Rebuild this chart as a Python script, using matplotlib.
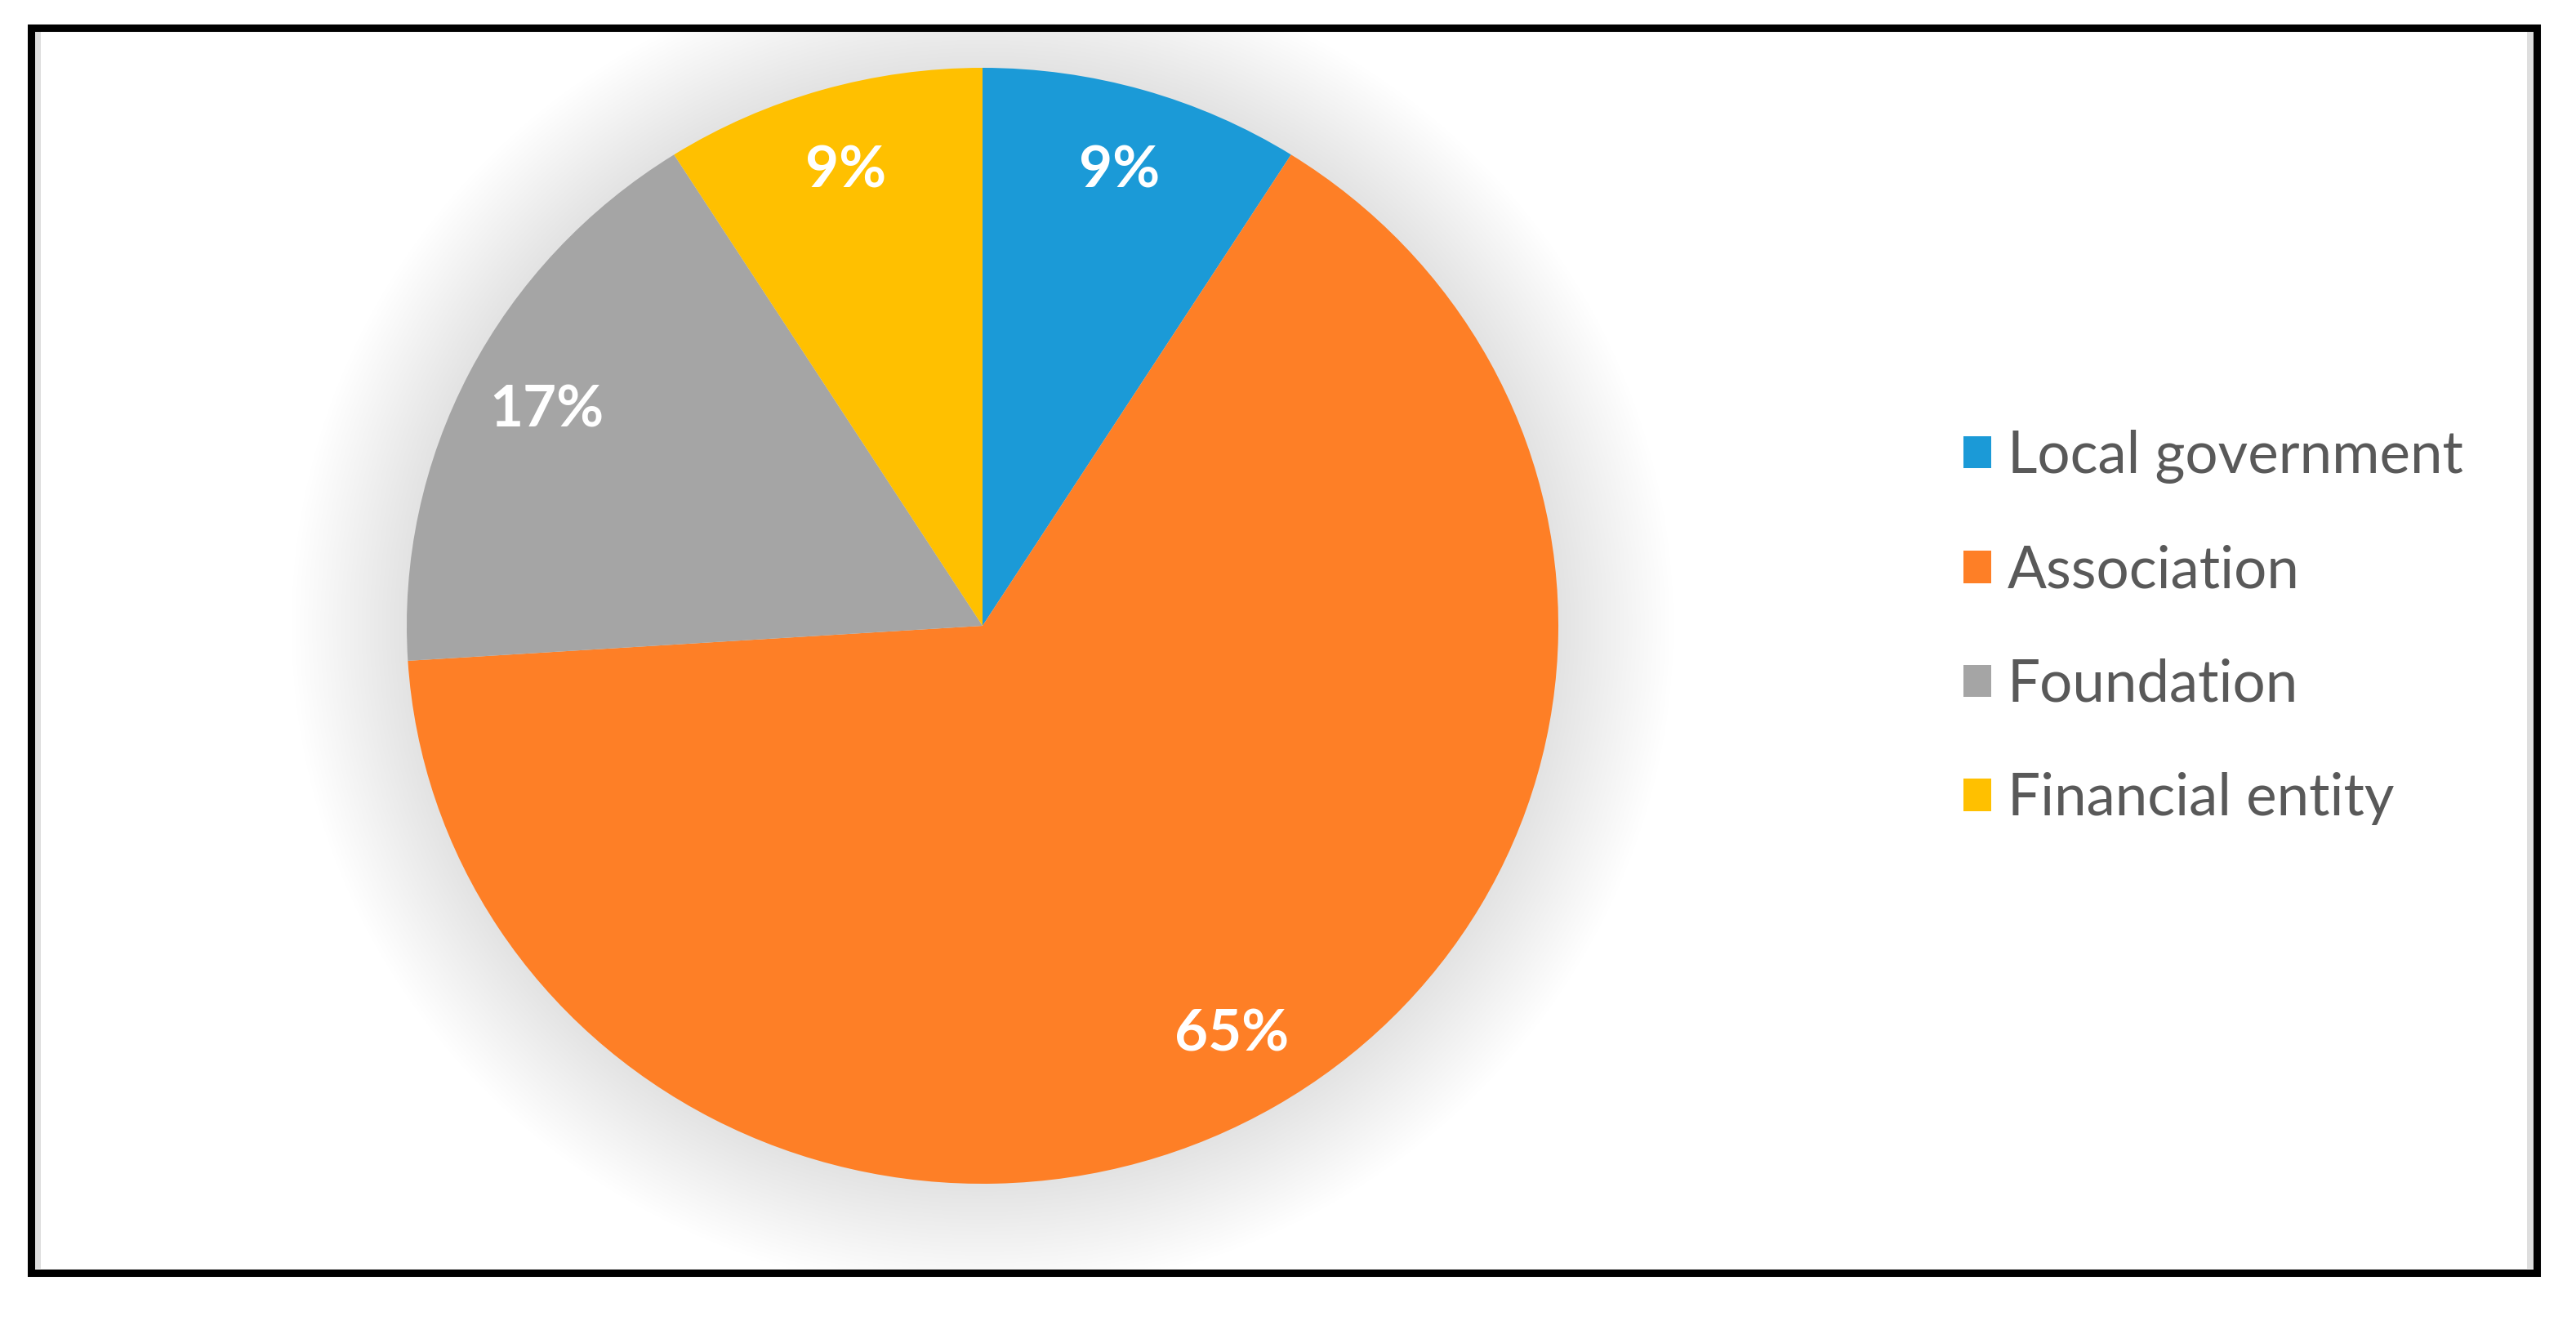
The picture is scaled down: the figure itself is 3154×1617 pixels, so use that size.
import matplotlib
matplotlib.use("Agg")
import matplotlib.pyplot as plt
from matplotlib.patches import Circle, Rectangle

# data
categories = ["Local government", "Association", "Foundation", "Financial entity"]
shares = [9, 65, 17, 9]
colors = ["#1B9AD7", "#FE7F26", "#A5A5A5", "#FFC000"]

W, H = 3154, 1617
fig = plt.figure(figsize=(W / 100, H / 100), dpi=100)

# pie axes, stretched a bit wider than tall like the original
cx, cy, rx, ry = 1203, 766, 705, 683
lim = 1.25
ax = fig.add_axes([(cx - lim * rx) / W, (H - cy - lim * ry) / H, 2 * lim * rx / W, 2 * lim * ry / H], zorder=1)

# soft shadow round the pie (each layer is one 8-bit alpha step)
n = 28
for i in range(n):
    r = 1.0 + 0.2 * (i + 1) / n
    ax.add_patch(Circle((0, 0), r, color="black", alpha=0.004, lw=0, zorder=0))

wedges, texts, autotexts = ax.pie(
    shares, colors=colors, startangle=90, counterclock=False,
    autopct="%d%%", pctdistance=0.85,
    wedgeprops=dict(linewidth=0),
    textprops=dict(color="white", fontsize=51, fontweight="bold", family="Lato"),
)
for w in wedges:
    w.set_zorder(2)
for t in autotexts:
    t.set_zorder(3)
ax.set_aspect("auto")
ax.set_xlim(-lim, lim)
ax.set_ylim(-lim, lim)

# frame on top, in pixel coords
top = fig.add_axes([0, 0, 1, 1], zorder=3)
top.set_xlim(0, W)
top.set_ylim(H, 0)
top.axis("off")
top.patch.set_alpha(0)
top.add_patch(Rectangle((0, 0), W, 29, color="white", lw=0))
top.add_patch(Rectangle((0, 1562), W, H - 1562, color="white", lw=0))
top.add_patch(Rectangle((0, 0), 33, H, color="white", lw=0))
top.add_patch(Rectangle((3110, 0), W - 3110, H, color="white", lw=0))
top.add_patch(Rectangle((42, 39), 8, 1514, color="#dedede", lw=0))
top.add_patch(Rectangle((3094, 39), 8, 1514, color="#dedede", lw=0))
top.add_patch(Rectangle((37.5, 34), 3068, 1523.5, fill=False, ec="black", lw=6.5, joinstyle="miter"))

fig.legend(
    wedges, categories, loc="center left",
    bbox_to_anchor=(2404 / W, 1 - 768 / H),
    frameon=False, borderpad=0, borderaxespad=0,
    handlelength=0.48, handleheight=0.48, handletextpad=0.28,
    labelspacing=1.05,
    prop=dict(family="Lato", size=51),
    labelcolor="#595959",
)

fig.savefig("out.png", dpi=100, facecolor="white")
